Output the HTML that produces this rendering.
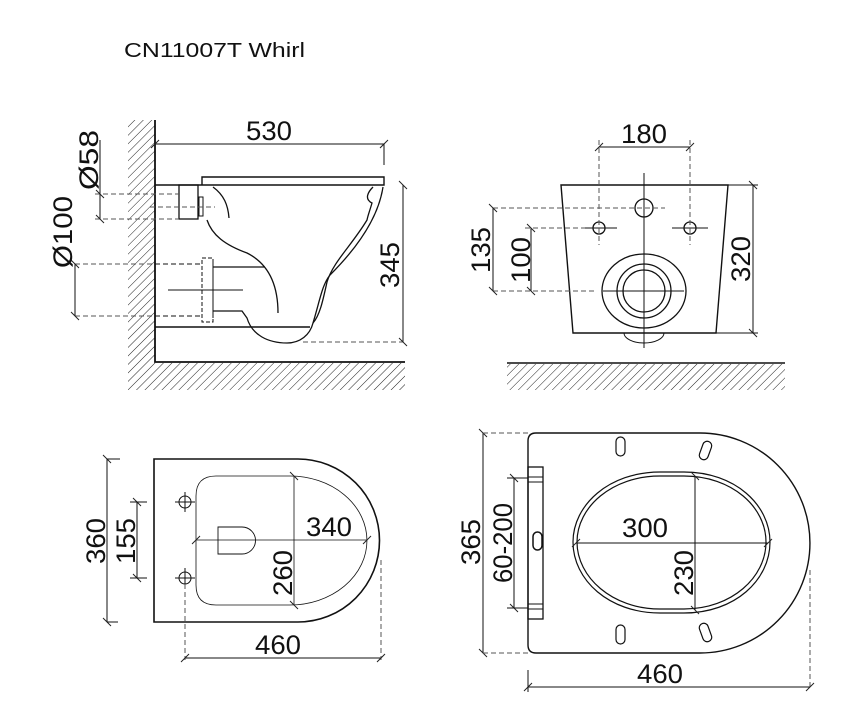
<!DOCTYPE html>
<html><head><meta charset="utf-8"><style>
html,body{margin:0;padding:0;background:#fff;}
svg{display:block;}
text{font-family:"Liberation Sans",sans-serif;fill:#111;}
</style></head><body>
<svg width="843" height="702" viewBox="0 0 843 702" xmlns="http://www.w3.org/2000/svg">
<defs>
<pattern id="h" width="6" height="6" patternUnits="userSpaceOnUse" patternTransform="rotate(45)">
<line x1="0" y1="0" x2="0" y2="6" stroke="#222" stroke-width="1"/>
</pattern>
<marker id="t" markerWidth="12" markerHeight="12" refX="6" refY="6" orient="auto" markerUnits="userSpaceOnUse">
<line x1="2" y1="10" x2="10" y2="2" stroke="#222" stroke-width="1"/>
</marker>
</defs>
<text x="124" y="57" font-size="20" textLength="181" lengthAdjust="spacingAndGlyphs">CN11007T Whirl</text>

<g fill="none" stroke="#111" stroke-width="1">
<!-- TOP LEFT -->
<rect x="128" y="120" width="27" height="270" fill="url(#h)" stroke="none"/>
<rect x="155" y="363" width="250" height="27" fill="url(#h)" stroke="none"/>
<path d="M155 120 V362 H405" stroke-width="1.8"/>
<path d="M155 185 H384 V177 H202 V185" stroke-width="1.4"/>
<path d="M155 327 H310" stroke-width="1.4"/>
<rect x="179" y="185" width="19" height="34" stroke-width="1.3"/>
<rect x="199" y="197" width="4" height="19"/>
<path d="M213 187 C224 195 228 205 229 218" stroke-width="1.3"/>
<path d="M207 220 C212 235 225 245 247 253 C265 262 278 280 278 313" stroke-width="1.3"/>
<path d="M213 267 H265 M213 311 H242 L247 318 C252 335 268 343 287 343 C300 343 310 335 313 323 C320 300 322 285 330 275 C355 250 378 220 383 187" stroke-width="1.3"/>
<path d="M373 187 C368 192 364 199 372 203 C370 210 368 215 367 220 C352 245 333 262 327 282 C323 300 320 315 313 323" stroke-width="1.3"/>
<rect x="202" y="258" width="11" height="64" stroke-dasharray="4,2"/>
<g stroke="#555" stroke-dasharray="5,3">
<path d="M95 194 H179 M95 219 H179 M150 207 H215 M75 264 H202 M75 316 H202 M303 342 H403"/>
<path d="M155 264 H202 M155 316 H202" stroke="#111"/>
</g>
<path d="M168 290 H243 M213 262 V318"/>
<line x1="155" y1="144" x2="384" y2="144" marker-start="url(#t)" marker-end="url(#t)"/>
<line x1="384" y1="144" x2="384" y2="165"/>
<line x1="403" y1="185" x2="403" y2="342" marker-start="url(#t)" marker-end="url(#t)"/>
<line x1="100" y1="194" x2="100" y2="219" marker-start="url(#t)" marker-end="url(#t)"/>
<line x1="100" y1="140" x2="100" y2="194"/>
<line x1="75" y1="264" x2="75" y2="316" marker-start="url(#t)" marker-end="url(#t)"/>

<!-- TOP RIGHT -->
<rect x="507" y="364" width="278" height="26" fill="url(#h)" stroke="none"/>
<line x1="507" y1="363" x2="785" y2="363" stroke-width="1.6"/>
<path d="M561 185 H728 L716 333 H573 Z" stroke-width="1.4"/>
<path d="M624 333 A20 10 0 0 0 664 333"/>
<line x1="644" y1="173" x2="644" y2="348"/>
<circle cx="644" cy="208" r="9" stroke-width="1.3"/>
<circle cx="599" cy="228" r="6" stroke-width="1.3"/>
<circle cx="690" cy="228" r="6" stroke-width="1.3"/>
<ellipse cx="644" cy="291" rx="42" ry="37" stroke-width="1.3"/>
<circle cx="644" cy="291" r="27" stroke-width="1.3"/>
<circle cx="644" cy="291" r="21" stroke-width="1.3"/>
<path d="M603 291 H684 M585 228 H617 M672 228 H708"/>
<g stroke="#555" stroke-dasharray="5,3">
<path d="M599 140 V245 M690 140 V245 M493 208 H665 M525 228 H585 M493 291 H597"/>
</g>
<line x1="599" y1="147" x2="690" y2="147" marker-start="url(#t)" marker-end="url(#t)"/>
<line x1="493" y1="208" x2="493" y2="291" marker-start="url(#t)" marker-end="url(#t)"/>
<line x1="531" y1="228" x2="531" y2="291" marker-start="url(#t)" marker-end="url(#t)"/>
<line x1="753" y1="185" x2="753" y2="333" marker-start="url(#t)" marker-end="url(#t)"/>
<path d="M728 185 H758 M716 333 H758"/>

<!-- BOTTOM LEFT -->
<path d="M154 459 H298 A81.5 81.5 0 0 1 298 622 H154 Z" stroke-width="1.6"/>
<path d="M216 476 H290 A77 64.5 0 0 1 290 605 H216 Q196 605 196 585 V496 Q196 476 216 476 Z" stroke-width="0.8"/>
<path d="M218 527 H242 A13.5 13.5 0 0 1 242 554 H218 Z" stroke-width="0.9"/>
<line x1="196" y1="540" x2="367" y2="540" stroke-width="0.8" marker-start="url(#t)" marker-end="url(#t)"/>
<line x1="294" y1="476" x2="294" y2="605" stroke-width="0.8" marker-start="url(#t)" marker-end="url(#t)"/>
<circle cx="185" cy="502" r="6"/><circle cx="185" cy="578" r="6"/>
<path d="M175 502 H195 M185 492 V512 M175 578 H195 M185 568 V588"/>
<line x1="107" y1="459" x2="107" y2="622" marker-start="url(#t)" marker-end="url(#t)"/>
<path d="M107 459 H120 M107 622 H118"/>
<line x1="137" y1="502" x2="137" y2="578" marker-start="url(#t)" marker-end="url(#t)"/>
<path d="M130 502 H147 M130 578 H147"/>
<g stroke="#555" stroke-dasharray="5,3"><path d="M185 584 V660 M381 560 V660"/></g>
<line x1="185" y1="658" x2="381" y2="658" marker-start="url(#t)" marker-end="url(#t)"/>

<!-- BOTTOM RIGHT -->
<path d="M536 433 H700 A110 110 0 0 1 700 653 H536 Q528 653 528 645 V441 Q528 433 536 433 Z" stroke-width="1.4"/>
<rect x="528" y="467" width="15" height="152" stroke-width="1.3"/>
<path d="M528 477 H543 M528 482 H543 M528 604 H543 M528 609 H543"/>
<rect x="533" y="532" width="9" height="18" rx="4.5" stroke-width="1.5"/>
<path d="M660 472 H684 C735 472 770 505 770 542 C770 580 735 613 684 613 H660 C609 613 573 580 573 542 C573 505 609 472 660 472 Z" stroke-width="1.2"/>
<path d="M660 476 H684 C732 476 766 507 766 542 C766 577 732 609 684 609 H660 C612 609 577 577 577 542 C577 507 612 476 660 476 Z" stroke-width="1.2"/>
<line x1="576" y1="543" x2="768" y2="543" marker-start="url(#t)" marker-end="url(#t)"/>
<line x1="695" y1="476" x2="695" y2="610" marker-start="url(#t)" marker-end="url(#t)"/>
<rect x="616" y="437" width="9" height="19" rx="4.5" stroke-width="1.2"/>
<rect x="616" y="625" width="9" height="19" rx="4.5" stroke-width="1.2"/>
<rect x="701" y="441" width="9" height="19" rx="4.5" stroke-width="1.2" transform="rotate(20 705.5 450.5)"/>
<rect x="701" y="623" width="9" height="19" rx="4.5" stroke-width="1.2" transform="rotate(-20 705.5 632.5)"/>
<line x1="483" y1="433" x2="483" y2="653" marker-start="url(#t)" marker-end="url(#t)"/>
<g stroke="#555" stroke-dasharray="5,3"><path d="M483 433 H528 M483 653 H528 M810 570 V690"/></g>
<line x1="514" y1="478" x2="514" y2="608" marker-start="url(#t)" marker-end="url(#t)"/>
<path d="M507 478 H528 M507 608 H528"/>
<line x1="528" y1="687" x2="810" y2="687" marker-start="url(#t)" marker-end="url(#t)"/>
<line x1="528" y1="670" x2="528" y2="692"/>
</g>

<g font-size="27">
<text x="246" y="140" textLength="46" lengthAdjust="spacingAndGlyphs">530</text>
<text x="621" y="143" textLength="46" lengthAdjust="spacingAndGlyphs">180</text>
<text x="306" y="536" textLength="46" lengthAdjust="spacingAndGlyphs">340</text>
<text x="622" y="537" textLength="46" lengthAdjust="spacingAndGlyphs">300</text>
<text x="255" y="654" textLength="46" lengthAdjust="spacingAndGlyphs">460</text>
<text x="637" y="683" textLength="46" lengthAdjust="spacingAndGlyphs">460</text>
<text transform="translate(98,160) rotate(-90)" x="-30" y="0" textLength="60" lengthAdjust="spacingAndGlyphs">Ø58</text>
<text transform="translate(72,232) rotate(-90)" x="-36" y="0" textLength="72" lengthAdjust="spacingAndGlyphs">Ø100</text>
<text transform="translate(399,265) rotate(-90)" x="-23" y="0" textLength="46" lengthAdjust="spacingAndGlyphs">345</text>
<text transform="translate(490,250) rotate(-90)" x="-23" y="0" textLength="46" lengthAdjust="spacingAndGlyphs">135</text>
<text transform="translate(530,260) rotate(-90)" x="-23" y="0" textLength="46" lengthAdjust="spacingAndGlyphs">100</text>
<text transform="translate(750,259) rotate(-90)" x="-23" y="0" textLength="46" lengthAdjust="spacingAndGlyphs">320</text>
<text transform="translate(105,541) rotate(-90)" x="-23" y="0" textLength="46" lengthAdjust="spacingAndGlyphs">360</text>
<text transform="translate(135,541) rotate(-90)" x="-23" y="0" textLength="46" lengthAdjust="spacingAndGlyphs">155</text>
<text transform="translate(292,573) rotate(-90)" x="-23" y="0" textLength="46" lengthAdjust="spacingAndGlyphs">260</text>
<text transform="translate(480,542) rotate(-90)" x="-23" y="0" textLength="46" lengthAdjust="spacingAndGlyphs">365</text>
<text transform="translate(512,543) rotate(-90)" x="-40" y="0" textLength="80" lengthAdjust="spacingAndGlyphs">60-200</text>
<text transform="translate(693,573) rotate(-90)" x="-23" y="0" textLength="46" lengthAdjust="spacingAndGlyphs">230</text>
</g>
</svg>
</body></html>
